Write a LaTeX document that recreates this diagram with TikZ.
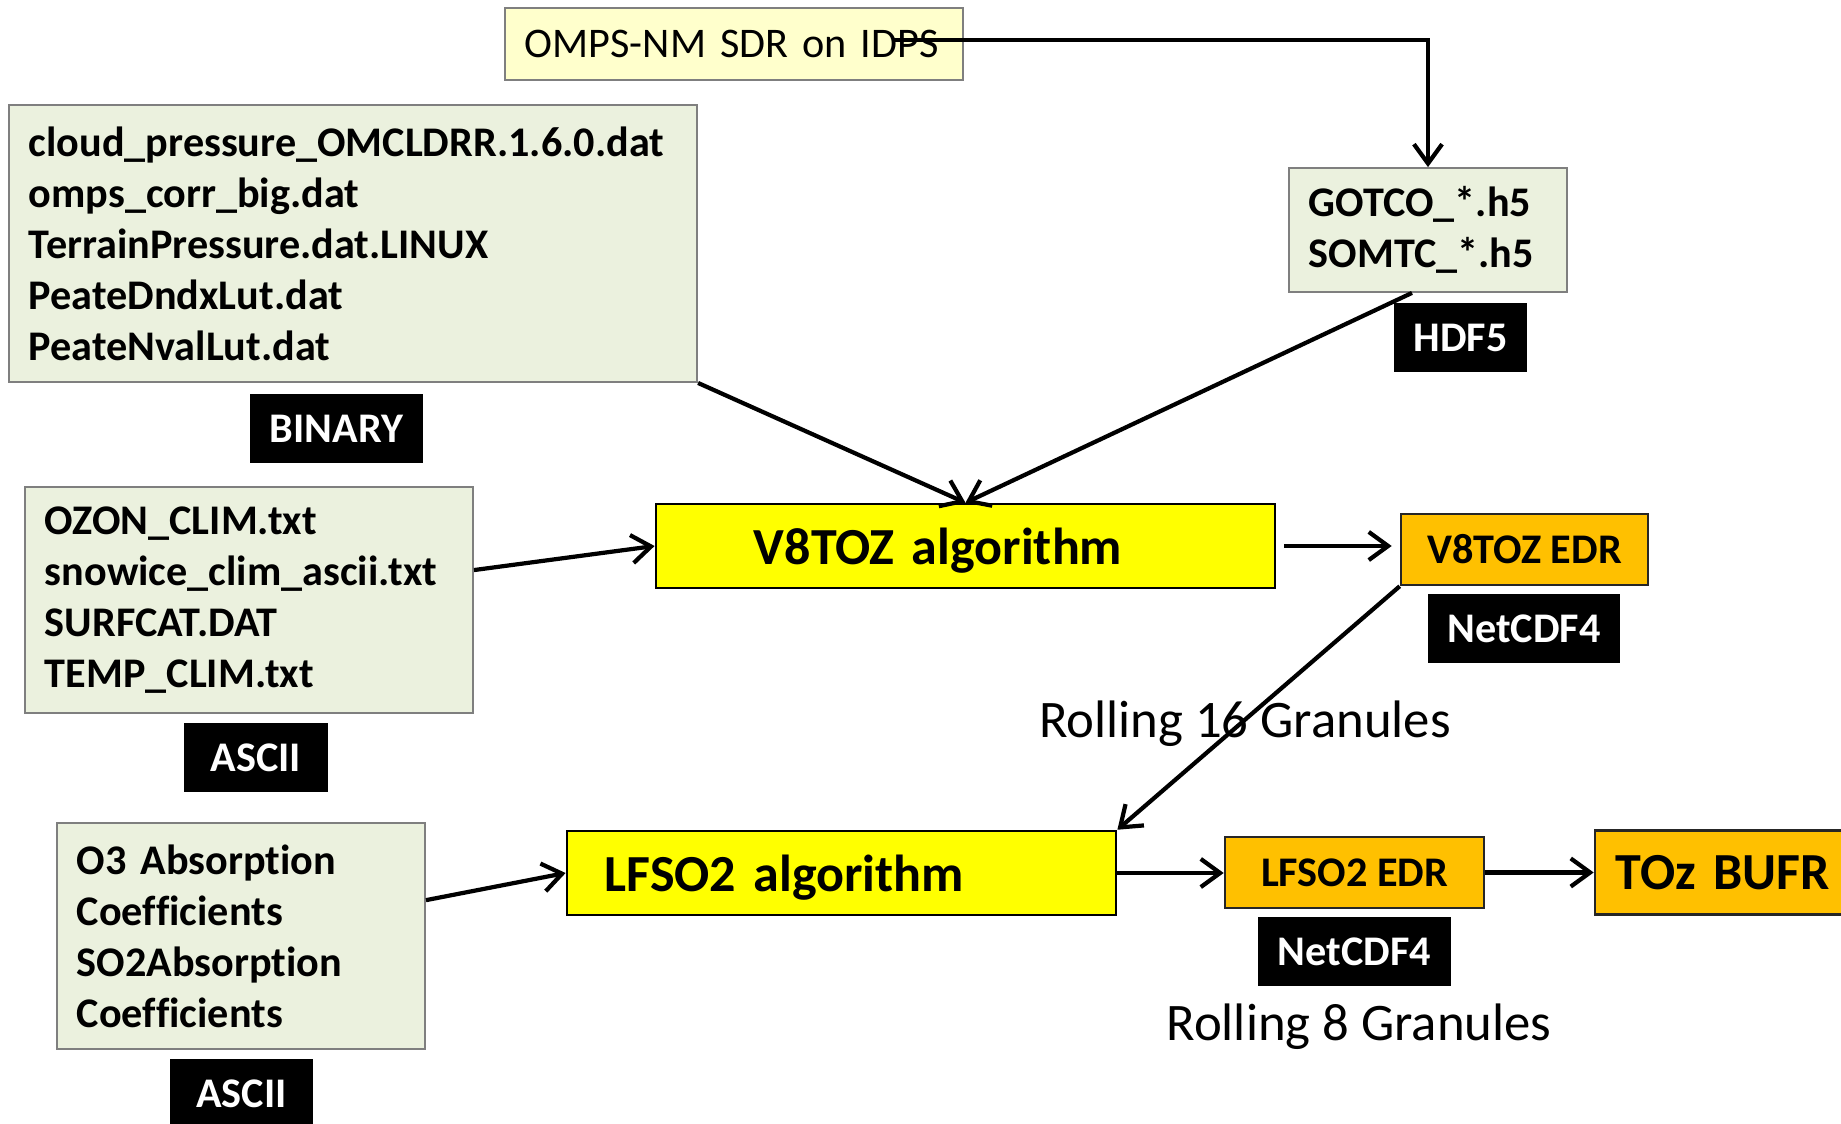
\documentclass[tikz,border=0pt]{standalone}
\usepackage{fontspec}
\setmainfont{Carlito}[Ligatures=NoCommon]
\usetikzlibrary{arrows.meta}

\definecolor{filebg}{HTML}{EBF1DE}
\definecolor{sdrbg}{HTML}{FFFFCC}
\definecolor{algbg}{HTML}{FFFF00}
\definecolor{edrbg}{HTML}{FFC000}
\definecolor{fileline}{HTML}{7F7F7F}

\tikzset{
  filebox/.style={draw=fileline, line width=0.5pt, fill=filebg, align=left,
    inner xsep=0.2cm, font=\bfseries\fontsize{12}{14.5}\selectfont},
  fmtlabel/.style={fill=black, text=white, minimum height=0.69cm,
    font=\bfseries\fontsize{12}{14.5}\selectfont},
  algbox/.style={draw=black, line width=0.7pt, fill=algbg, align=left, text depth=0pt,
    minimum height=0.84cm, font=\bfseries\fontsize{14.8}{17}\selectfont},
  edrbox/.style={draw=black!85, line width=0.7pt, fill=edrbg, minimum height=0.71cm,
    font=\bfseries\fontsize{12}{14.5}\selectfont},
  note/.style={inner sep=0pt, anchor=base, font=\fontsize{15}{18}\selectfont},
}

\begin{document}
\begin{tikzpicture}[x=0.01cm, y=-0.01cm, line width=1.2pt,
    >={Straight Barb[length=5.5pt,width=8pt]}]
  \useasboundingbox (0,0) rectangle (1841,1124);

  % input files
  \node[filebox, fill=sdrbg, text width=4.18cm, minimum height=0.72cm,
    font=\fontsize{12}{14.5}\selectfont] (sdr) at (734,44) {OMPS-NM SDR on IDPS};
  \node[filebox, text width=6.48cm, minimum height=2.77cm] (cloud) at (353,243.5)
    {cloud\_pressure\_OMCLDRR.1.6.0.dat\\ omps\_corr\_big.dat\\ TerrainPressure.dat.LINUX\\
     PeateDndxLut.dat\\ PeateNvalLut.dat};
  \node[fmtlabel, minimum width=1.73cm] (binary) at (336.5,428.5) {BINARY};
  \node[filebox, text width=2.38cm, minimum height=1.24cm] (gotco) at (1428,230)
    {GOTCO\_*.h5\\ SOMTC\_*.h5};
  \node[fmtlabel, minimum width=1.33cm] (hdf) at (1460.5,337.5) {HDF5};
  \node[filebox, text width=4.08cm, minimum height=2.26cm] (ozon) at (249,600)
    {OZON\_CLIM.txt\\ snowice\_clim\_ascii.txt\\ SURFCAT.DAT\\ TEMP\_CLIM.txt};
  \node[fmtlabel, minimum width=1.44cm] (asciia) at (256,757.5) {ASCII};
  \node[filebox, text width=3.28cm, minimum height=2.26cm] (coef) at (241,936)
    {O3 Absorption\\ Coefficients\\ SO2Absorption\\ Coefficients};
  \node[fmtlabel, minimum width=1.43cm] (asciib) at (241.5,1093.5) {ASCII};

  % algorithms and products
  \node[algbox, text width=4.23cm, inner xsep=0.98cm] (v8toz) at (965.5,546) {V8TOZ algorithm};
  \node[edrbox, minimum width=2.47cm] (v8edr) at (1524.5,549.5) {V8TOZ EDR};
  \node[fmtlabel, minimum width=1.92cm] (ncdfa) at (1524,628.5) {NetCDF4};
  \node[note] (roll16) at (1245,737.5) {Rolling 16 Granules};
  \node[algbox, text width=4.73cm, inner xsep=0.38cm] (lfso2) at (841.5,873) {LFSO2 algorithm};
  \node[edrbox, minimum width=2.59cm] (lfedr) at (1354.5,872.5) {LFSO2 EDR};
  \node[fmtlabel, minimum width=1.93cm] (ncdfb) at (1354.5,951.5) {NetCDF4};
  \node[note] (roll8) at (1359,1040.5) {Rolling 8 Granules};
  \node[edrbox, align=left, text width=2.58cm, inner xsep=0.21cm, minimum height=0.84cm,
    font=\bfseries\fontsize{14.8}{17}\selectfont] (toz) at (1745,872.5) {TOz BUFR};

  % connectors
  \coordinate (sdrout) at (892,40);
  \draw[->] (sdrout) -| (gotco);
  \draw[->] (cloud.south east) -- (v8toz.north);
  \draw[->] ([xshift=-0.16cm]gotco.south) -- (v8toz.north);
  \draw[->] (ozon) -- (v8toz.west);
  \draw[->, shorten <=0.08cm, shorten >=0.08cm] (v8toz) -- (v8toz -| v8edr.west);
  \draw[->] (v8edr.south west) -- (lfso2.north east);
  \draw[->] (coef) -- (lfso2.west);
  \draw[->] (lfso2) -- (lfso2 -| lfedr.west);
  \draw[->] (lfedr) -- (lfedr -| toz.west);
\end{tikzpicture}
\end{document}
